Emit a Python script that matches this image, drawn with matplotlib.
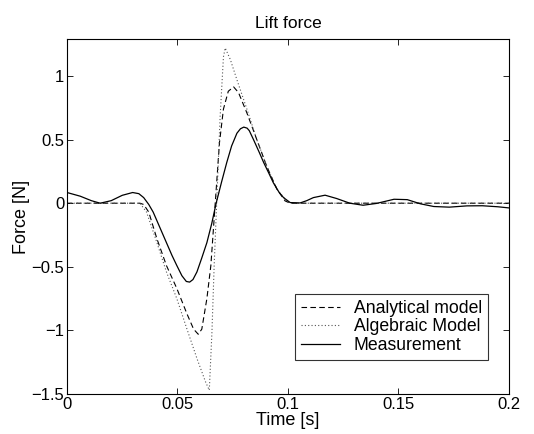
import matplotlib

matplotlib.use("Agg")
import matplotlib.pyplot as plt
import numpy as np

plt.rcParams["font.family"] = ["Liberation Sans", "DejaVu Sans"]

# values
meas_t = [0.0, 0.006, 0.011, 0.015, 0.020, 0.025, 0.0297, 0.0325, 0.0347, 0.037,
          0.039, 0.042, 0.045, 0.0475, 0.0497, 0.052, 0.054, 0.0555, 0.057,
          0.0588, 0.061, 0.0633, 0.0655, 0.0675, 0.070, 0.0723, 0.0745, 0.0769,
          0.0785, 0.080, 0.0815, 0.0825, 0.0844, 0.087, 0.089, 0.0915, 0.0934,
          0.096, 0.098, 0.101, 0.1055, 0.1085, 0.1115, 0.1168, 0.122, 0.128,
          0.134, 0.140, 0.148, 0.154, 0.160, 0.166, 0.173, 0.181, 0.188,
          0.195, 0.2]
meas_f = [0.084, 0.055, 0.020, 0.0, 0.020, 0.062, 0.084, 0.075, 0.044, -0.01,
          -0.07, -0.19, -0.31, -0.41, -0.49, -0.57, -0.615, -0.62, -0.60,
          -0.54, -0.43, -0.31, -0.16, 0.0, 0.17, 0.32, 0.45, 0.55,
          0.585, 0.598, 0.59, 0.57, 0.50, 0.40, 0.32, 0.23, 0.16,
          0.085, 0.044, 0.005, 0.002, 0.020, 0.044, 0.063, 0.037, 0.0,
          -0.016, -0.002, 0.031, 0.028, -0.005, -0.026, -0.031, -0.021, -0.020,
          -0.028, -0.037]

anal_t = [0.0, 0.033, 0.0347, 0.037, 0.0407, 0.045, 0.0497, 0.0543, 0.0573,
          0.0594, 0.061, 0.0633, 0.0651, 0.067, 0.069, 0.0708, 0.073, 0.0754,
          0.0776, 0.0814, 0.0859, 0.0904, 0.095, 0.0987, 0.101, 0.2]
anal_f = [0.0, 0.0, -0.01, -0.07, -0.28, -0.49, -0.67, -0.87, -0.99,
          -1.03, -0.99, -0.75, -0.49, -0.02, 0.475, 0.74, 0.88, 0.914,
          0.87, 0.71, 0.50, 0.29, 0.11, 0.018, 0.0, 0.0]

alg_t = [0.0, 0.033, 0.036, 0.0407, 0.045, 0.0497, 0.0543, 0.0588, 0.0626,
         0.0644, 0.0656, 0.0666, 0.0678, 0.0693, 0.0708, 0.0716, 0.0739,
         0.0769, 0.0814, 0.0859, 0.0904, 0.095, 0.0995, 0.101, 0.2]
alg_f = [0.0, 0.0, -0.07, -0.31, -0.54, -0.75, -0.99, -1.22, -1.40,
         -1.47, -1.01, -0.49, 0.03, 0.68, 1.15, 1.22, 1.13,
         0.97, 0.74, 0.50, 0.29, 0.11, 0.015, 0.0, 0.0]

fig = plt.figure(figsize=(5.34, 4.34), dpi=100)
ax = fig.add_axes([0.1255, 0.092, 0.8275, 0.818])

ax.plot(anal_t, anal_f, color="black", linestyle=(0, (5, 3)), linewidth=0.8,
        label="Analytical model")
ax.plot(alg_t, alg_f, color="#555555", linestyle=(0, (1, 2)), linewidth=0.8,
        label="Algebraic Model")
ax.plot(meas_t, meas_f, color="black", linestyle="-", linewidth=0.9,
        label="Measurement")

ax.set_xlim(0, 0.2)
ax.set_ylim(-1.5, 1.29)
ax.set_xticks([0, 0.05, 0.1, 0.15, 0.2])
ax.set_xticklabels(["0", "0.05", "0.1", "0.15", "0.2"])
ax.set_yticks([-1.5, -1, -0.5, 0, 0.5, 1])
ax.set_yticklabels(["\u22121.5", "\u22121", "\u22120.5", "0", "0.5", "1"])
ax.tick_params(direction="in", top=True, right=True, length=4, width=0.6,
               labelsize=12, pad=2)
for s in ax.spines.values():
    s.set_linewidth(0.8)

ax.set_title("Lift force", fontsize=12.5, pad=8)
ax.set_xlabel("Time [s]", fontsize=13, labelpad=0)
ax.set_ylabel("Force [N]", fontsize=13, labelpad=1)

leg = ax.legend(loc="lower right", bbox_to_anchor=(0.973, 0.07), fontsize=12.7,
                frameon=True, fancybox=False, edgecolor="black",
                handlelength=2.2, handletextpad=0.8, borderpad=0.35,
                labelspacing=0.1)
leg.get_frame().set_linewidth(0.8)

fig.savefig("out.png", dpi=100)
plt.close(fig)
